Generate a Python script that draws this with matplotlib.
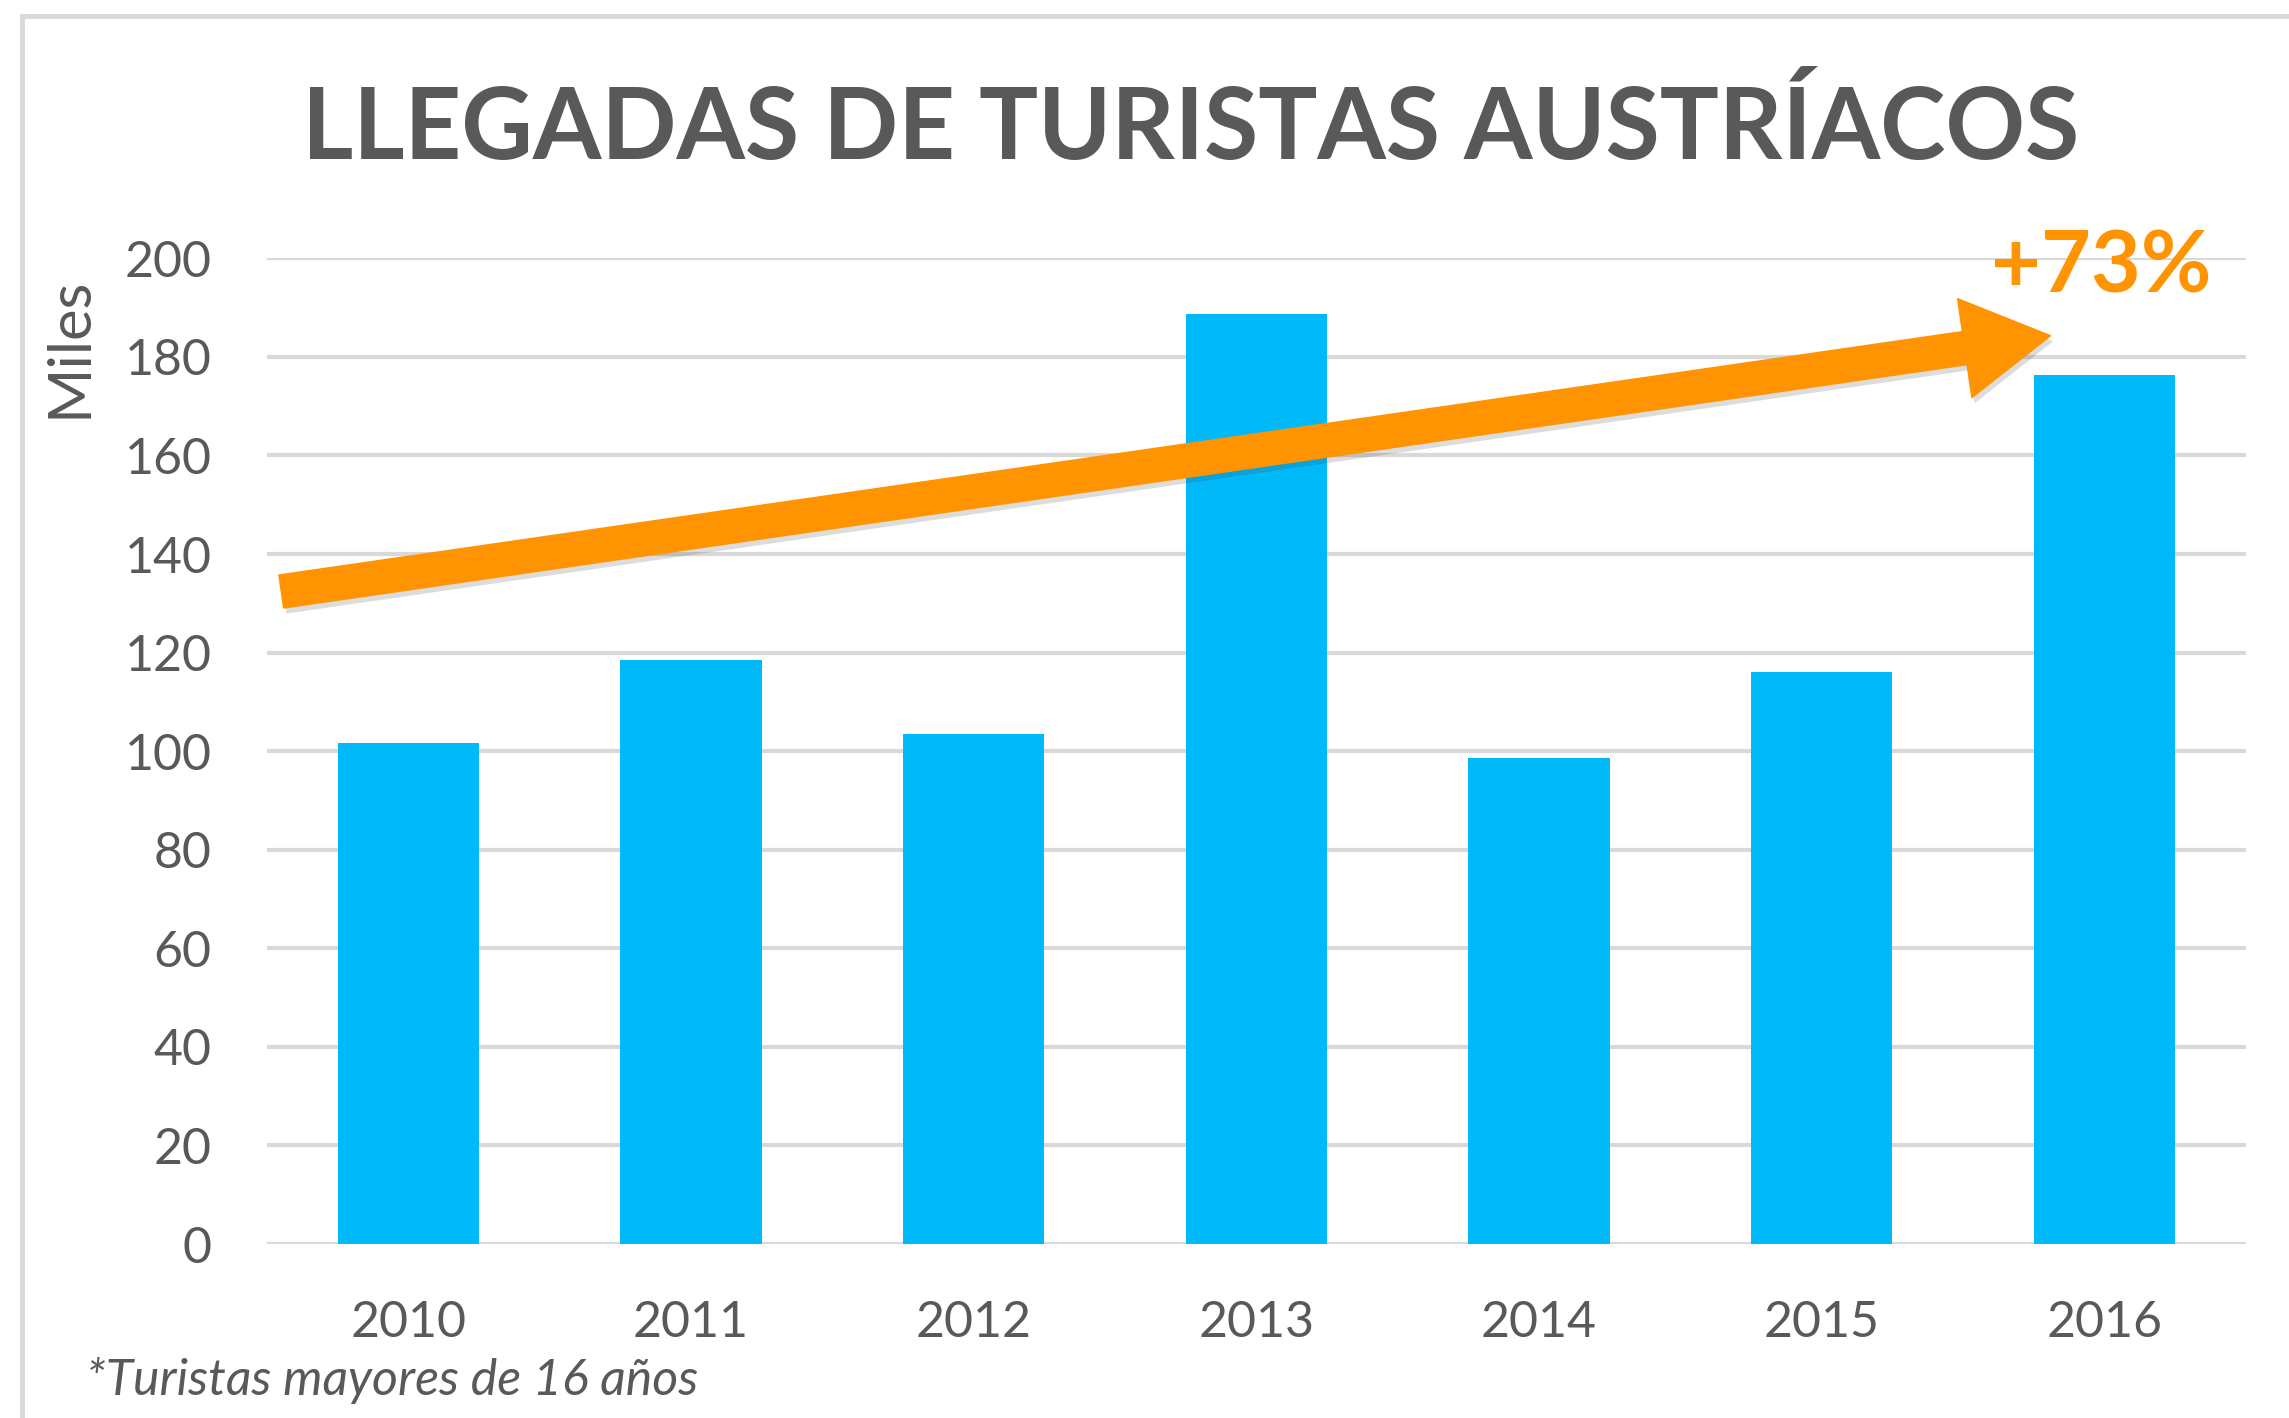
import matplotlib
matplotlib.use("Agg")
import matplotlib.pyplot as plt
import matplotlib.patheffects as pe
from matplotlib.patches import Rectangle

years = ["2010", "2011", "2012", "2013", "2014", "2015", "2016"]
llegadas = [101.6, 118.5, 103.4, 188.7, 98.7, 116.1, 176.3]
y_ticks = [0, 20, 40, 60, 80, 100, 120, 140, 160, 180, 200]

title = "LLEGADAS DE TURISTAS AUSTRÍACOS"
y_label = "Miles"
nota = "*Turistas mayores de 16 años"
crecimiento = "+73%"

gris = "#595959"
azul = "#00B9F9"
naranja = "#FF9300"

plt.rcParams["font.family"] = ["Lato", "DejaVu Sans"]

fig = plt.figure(figsize=(22.89, 14.18), dpi=100)
ax = fig.add_axes([0.1167, 0.1227, 0.981 - 0.1167, 0.8178 - 0.1227])

# marco gris del grafico
fig.patches.append(Rectangle((0.0096, -0.05), 1.2, 1.039, transform=fig.transFigure,
                             fill=False, edgecolor="#d9d9d9", linewidth=3.5))

ax.bar(range(len(years)), llegadas, width=0.5, color=azul, zorder=3)

ax.set_xlim(-0.5, len(years) - 0.5)
ax.set_ylim(0, 200)
ax.set_yticks(y_ticks)
ax.set_xticks(range(len(years)))
ax.set_xticklabels(years)
ax.tick_params(axis="both", length=0, labelsize=36, labelcolor=gris)
ax.tick_params(axis="y", pad=40)
ax.tick_params(axis="x", pad=40)
ax.grid(axis="y", color="#d9d9d9", linewidth=3, zorder=0)
for s in ax.spines.values():
    s.set_visible(False)

ax.set_ylabel(y_label, fontsize=43, color=gris)
ax.yaxis.set_label_coords(-0.086, 0.91)

fig.text(0.52, 0.909, title, fontsize=71, fontweight="bold", color=gris,
         ha="center", va="center")
fig.text(0.0375, 0.0265, nota, fontsize=36, style="italic", color=gris,
         ha="left", va="center")

# flecha de crecimiento
ax.annotate("", xy=(5.81, 184.3), xytext=(-0.45, 132.4),
            arrowprops=dict(arrowstyle="simple,head_length=2.6,head_width=3.0,tail_width=1.0",
                            color=naranja, mutation_scale=24, shrinkA=0, shrinkB=0,
                            path_effects=[pe.SimplePatchShadow(offset=(2, -4), alpha=0.18,
                                                               shadow_rgbFace="#404040"),
                                          pe.Normal()]),
            zorder=5)
ax.text(5.99, 198, crecimiento, fontsize=62, fontweight="bold", color=naranja,
        ha="center", va="center", zorder=6)

fig.savefig("out.png", dpi=100, facecolor="white")
